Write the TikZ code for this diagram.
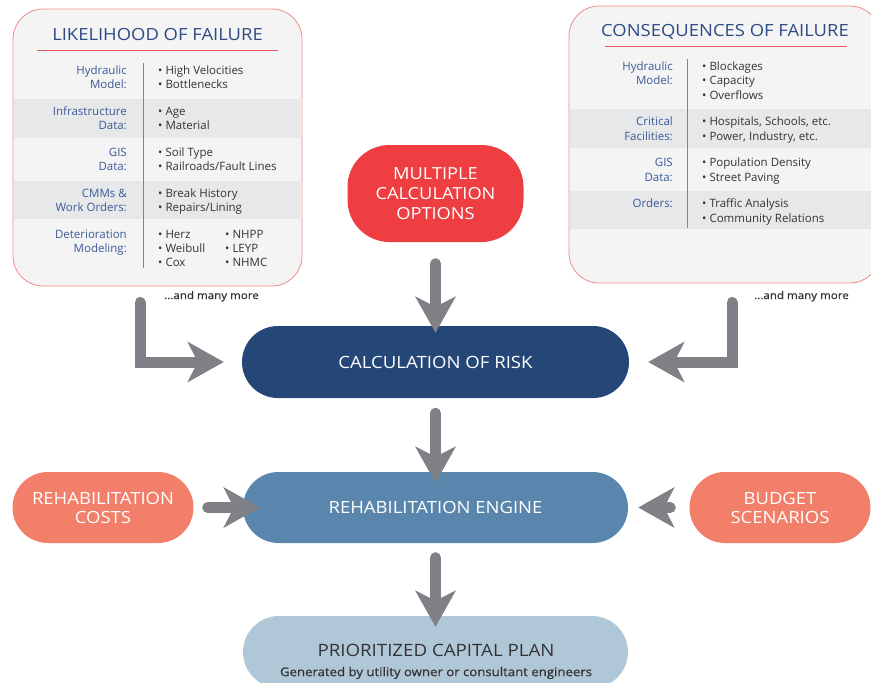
\documentclass[tikz,border=0pt]{standalone}
\usepackage{fontspec}
\setmainfont{Open Sans}
\newfontfamily\wide[FakeStretch=1.1]{Open Sans}
\newfontfamily\semib[FakeBold=0.6,FakeStretch=1.1]{Open Sans}
\usetikzlibrary{arrows.meta,shapes.misc}
\definecolor{navy}{HTML}{244778}
\definecolor{titleblue}{HTML}{2D4B85}
\definecolor{lblblue}{HTML}{3B5A98}
\definecolor{panelbg}{HTML}{F4F4F5}
\definecolor{rowgray}{HTML}{E7E8EA}
\definecolor{panelborder}{HTML}{F08A87}
\definecolor{redline}{HTML}{E95A5C}
\definecolor{optred}{HTML}{EE3E41}
\definecolor{engblue}{HTML}{5A86AD}
\definecolor{salmon}{HTML}{F27F69}
\definecolor{planblue}{HTML}{B0C7D8}
\definecolor{arrowgray}{HTML}{808186}
\definecolor{txt}{HTML}{333335}
\begin{document}
\begin{tikzpicture}[x=1pt,y=-1pt,
  panel/.style={rectangle, rounded corners=30pt, fill=panelbg, draw=panelborder, line width=0.8pt, inner sep=0pt},
  pill/.style={rounded rectangle, inner sep=0pt, text=white, align=center, font=\wide\fontsize{16.8}{19}\selectfont},
  ptitle/.style={text=titleblue, font=\wide\fontsize{16.75}{20}\selectfont, inner sep=0pt},
  lbl/.style={anchor=base east, text=lblblue, font=\fontsize{11.5}{14}\selectfont, inner sep=0pt},
  itm/.style={anchor=base west, text=txt, font=\fontsize{11.5}{14}\selectfont, inner sep=0pt},
  more/.style={anchor=base west, text=txt, font=\semib\fontsize{10.5}{12}\selectfont, inner sep=0pt},
  redrule/.style={draw=redline, line width=1pt},
  bigarrow/.style={draw=arrowgray, line width=11pt, line cap=round, -{Stealth[length=36pt,width=40pt,inset=10pt]}}
]
\useasboundingbox (0,0) rectangle (871,683);

% ---------- Likelihood panel ----------
\node[panel, minimum width=289pt, minimum height=277pt] (lof) at (157.5,147.5) {};
\fill[rowgray] (13.5,99) rectangle (301.5,138);
\fill[rowgray] (13.5,181) rectangle (301.5,219);
\node[ptitle] (loft) at (157.5,35) {LIKELIHOOD OF FAILURE};
\coordinate (lul1) at (37,50); \coordinate (lul2) at (278,50);
\draw[redrule] (lul1) -- (lul2);
\coordinate (lv1) at (143,63); \coordinate (lv2) at (143,268);
\draw[redrule] (lv1) -- (lv2);

\foreach \t/\y [count=\i] in {Hydraulic/70, Model:/84, Infrastructure/111, Data:/125, GIS/152, Data:/166, CMMs \&/193, Work Orders:/207, Deterioration/234, Modeling:/248}
  \node[lbl] (ll\i) at (127,\y+4) {\t};
\foreach \t/\y [count=\i] in {High Velocities/70, Bottlenecks/84, Age/111, Material/125, Soil Type/152, {Railroads/Fault Lines}/166, Break History/193, {Repairs/Lining}/207, Herz/234, Weibull/248, Cox/262}
  \node[itm] (li\i) at (158,\y+4) {• \t};
\foreach \t/\y [count=\i] in {NHPP/234, LEYP/248, NHMC/262}
  \node[itm] (lj\i) at (225,\y+4) {• \t};
\node[more] (lmore) at (164,299) {...and many more};

% ---------- Consequences panel ----------
\node[panel, minimum width=311pt, minimum height=277pt] (cof) at (724.5,144.5) {};
\fill[rowgray] (569.5,109) rectangle (880,148);
\fill[rowgray] (569.5,191) rectangle (880,229);
\node[ptitle] (coft) at (725,32) {CONSEQUENCES OF FAILURE};
\coordinate (rul1) at (605,46); \coordinate (rul2) at (847,46);
\draw[redrule] (rul1) -- (rul2);
\coordinate (rv1) at (687,59); \coordinate (rv2) at (687,228);
\draw[redrule] (rv1) -- (rv2);

\foreach \t/\y [count=\i] in {Hydraulic/66, Model:/80, Critical/121, Facilities:/136, GIS/162, Data:/177, Orders:/203}
  \node[lbl] (rl\i) at (673,\y+4) {\t};
\foreach \t/\y [count=\i] in {Blockages/66, Capacity/80, Overflows/95, {Hospitals, Schools, etc.}/121, {Power, Industry, etc.}/136, Population Density/162, Street Paving/177, Traffic Analysis/203, Community Relations/218}
  \node[itm] (ri\i) at (702,\y+4) {• \t};
\node[more] (rmore) at (754,299) {...and many more};

% ---------- Flow nodes ----------
\node[rectangle, rounded corners=42pt, fill=optred, text=white, align=center, inner sep=0pt,
      minimum width=176pt, minimum height=97pt, font=\wide\fontsize{16.6}{20}\selectfont] (mco) at (435.5,193.5)
      {MULTIPLE\\CALCULATION\\OPTIONS};
\node[pill, fill=navy, minimum width=387pt, minimum height=72pt, font=\wide\fontsize{16.9}{20}\selectfont] (calc) at (435.5,362) {CALCULATION OF RISK};
\node[pill, fill=engblue, minimum width=385pt, minimum height=71pt, font=\wide\fontsize{16.8}{20}\selectfont] (eng) at (435.5,507.5) {REHABILITATION ENGINE};
\node[pill, fill=salmon, minimum width=181pt, minimum height=71pt] (rc) at (103,507.5) {REHABILITATION\\COSTS};
\node[pill, fill=salmon, minimum width=181pt, minimum height=71pt] (bud) at (780,507.5) {BUDGET\\SCENARIOS};
\node[pill, fill=planblue, minimum width=385pt, minimum height=72pt] (plan) at (435.5,652) {};
\node[text=txt, inner sep=0pt, font=\wide\fontsize{17}{20}\selectfont] (plant) at (436,650) {PRIORITIZED CAPITAL PLAN};
\node[text=txt, inner sep=0pt, font=\semib\fontsize{12}{14}\selectfont] (plans) at (436,673) {Generated by utility owner or consultant engineers};

% ---------- Arrows ----------
\coordinate (lstart) at (140,302.5);
\coordinate (rstart) at (732,302.5);
\draw[bigarrow, shorten >=18pt] (lstart) |- (calc.west);
\draw[bigarrow, shorten >=19pt] (rstart) |- (calc.east);
\draw[bigarrow, shorten <=21.5pt, shorten >=-7pt] (mco.south) -- (calc.north);
\draw[bigarrow, shorten <=15pt, shorten >=-11pt] (calc.south) -- (eng.north);
\draw[bigarrow, shorten <=14.5pt, shorten >=-11pt] (eng.south) -- (plan.north);
\draw[bigarrow, shorten <=14pt, shorten >=-17pt] (rc.east) -- (eng.west);
\draw[bigarrow, shorten <=19pt, shorten >=10pt] (bud.west) -- (eng.east);
\end{tikzpicture}
\end{document}
